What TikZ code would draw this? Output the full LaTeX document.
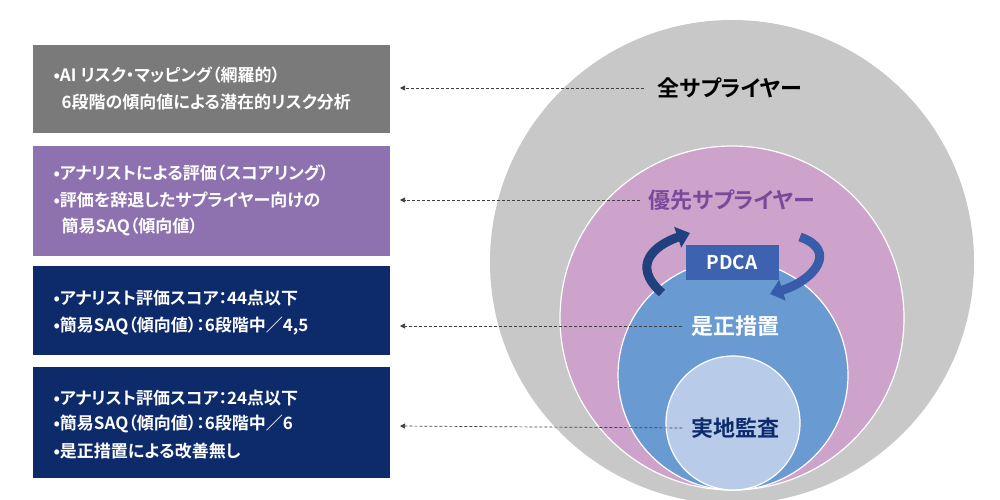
\documentclass[tikz,border=0pt]{standalone}
\usepackage{fontspec}
\setmainfont{Noto Sans CJK JP}[BoldFont={* Bold},RawFeature={+palt}]
\usetikzlibrary{arrows.meta}
\definecolor{boxgray}{HTML}{7A7A7A}
\definecolor{boxpurple}{HTML}{8E72B0}
\definecolor{navy}{HTML}{0D2A6B}
\definecolor{cgray}{HTML}{C8C8C8}
\definecolor{cpink}{HTML}{CDA3CB}
\definecolor{cblue}{HTML}{6A9AD2}
\definecolor{clight}{HTML}{B8CCEA}
\definecolor{pdca}{HTML}{3D62B0}
\definecolor{purptext}{HTML}{7A4A9A}
\begin{document}
\begin{tikzpicture}[x=1pt,y=-1pt,
  btxt/.style={anchor=west,text=white,font=\bfseries\fontsize{17}{19}\selectfont},
  circ/.style={draw=white,line width=1.2pt},
  lbl/.style={font=\bfseries\fontsize{22}{24}\selectfont},
  lead/.style={densely dashed,line width=0.7pt,draw=black!75,-{Triangle[length=5pt,width=5pt]}},
  parr/.style={line width=9pt,-{Triangle[length=13pt,width=21pt]}}]
\useasboundingbox (0,0) rectangle (1000,500);
\fill[white] (0,0) rectangle (1000,500);
% boxes
\fill[boxgray] (33,45) rectangle (390,133);
\fill[boxpurple] (33,146) rectangle (390,256);
\fill[navy] (33,266) rectangle (390,355);
\fill[navy] (33,367) rectangle (390,478);
\node[btxt] (a1) at (50,75) {•AI リスク・マッピング（網羅的）};
\node[btxt] (a2) at (58,102) {6段階の傾向値による潜在的リスク分析};
\node[btxt] (b1) at (50,173) {•アナリストによる評価（スコアリング）};
\node[btxt] (b2) at (50,200) {•評価を辞退したサプライヤー向けの};
\node[btxt] (b3) at (58,227) {簡易SAQ（傾向値）};
\node[btxt] (c1) at (50,298) {•アナリスト評価スコア：44点以下};
\node[btxt] (c2) at (50,326) {•簡易SAQ（傾向値）：6段階中／4,5};
\node[btxt] (d1) at (50,398) {•アナリスト評価スコア：24点以下};
\node[btxt] (d2) at (50,424) {•簡易SAQ（傾向値）：6段階中／6};
\node[btxt] (d3) at (50,451) {•是正措置による改善無し};
% circles
\fill[cgray] (732,262) circle (242);
\draw[circ,fill=cpink] (732,318) circle (172);
\draw[circ,fill=cblue] (733,375) circle (115);
\draw[circ,fill=clight] (733,423) circle (67);
% PDCA arrows
\draw[parr,color=navy!80!cblue] (662,293) .. controls (630,265) and (655,245) .. (690,233);
\draw[parr,color=pdca!90!navy] (800,237) .. controls (838,250) and (815,280) .. (770,294);
\node[fill=pdca,text=white,font=\bfseries\fontsize{19}{20}\selectfont,minimum width=93pt,minimum height=35pt,inner sep=0pt] (pd) at (732,262) {PDCA};
% labels
\node[lbl,text=black] (t1) at (730,88) {全サプライヤー};
\node[lbl,text=purptext] (t2) at (732,200) {優先サプライヤー};
\node[lbl,text=white] (t3) at (735,326) {是正措置};
\node[lbl,text=navy] (t4) at (735,428) {実地監査};
\coordinate (e1) at (400,88);
\coordinate (e2) at (400,200);
\coordinate (e3) at (400,326);
\coordinate (e4) at (400,426);
\draw[lead] (t1.west) ++(-10,0) -- (e1);
\draw[lead] (t2.west) ++(-5,0) -- (e2);
\draw[lead] (t3.west) ++(-5,0) -- (e3);
\draw[lead] (t4.west) ++(-5,0) -- (e4);
\end{tikzpicture}
\end{document}
